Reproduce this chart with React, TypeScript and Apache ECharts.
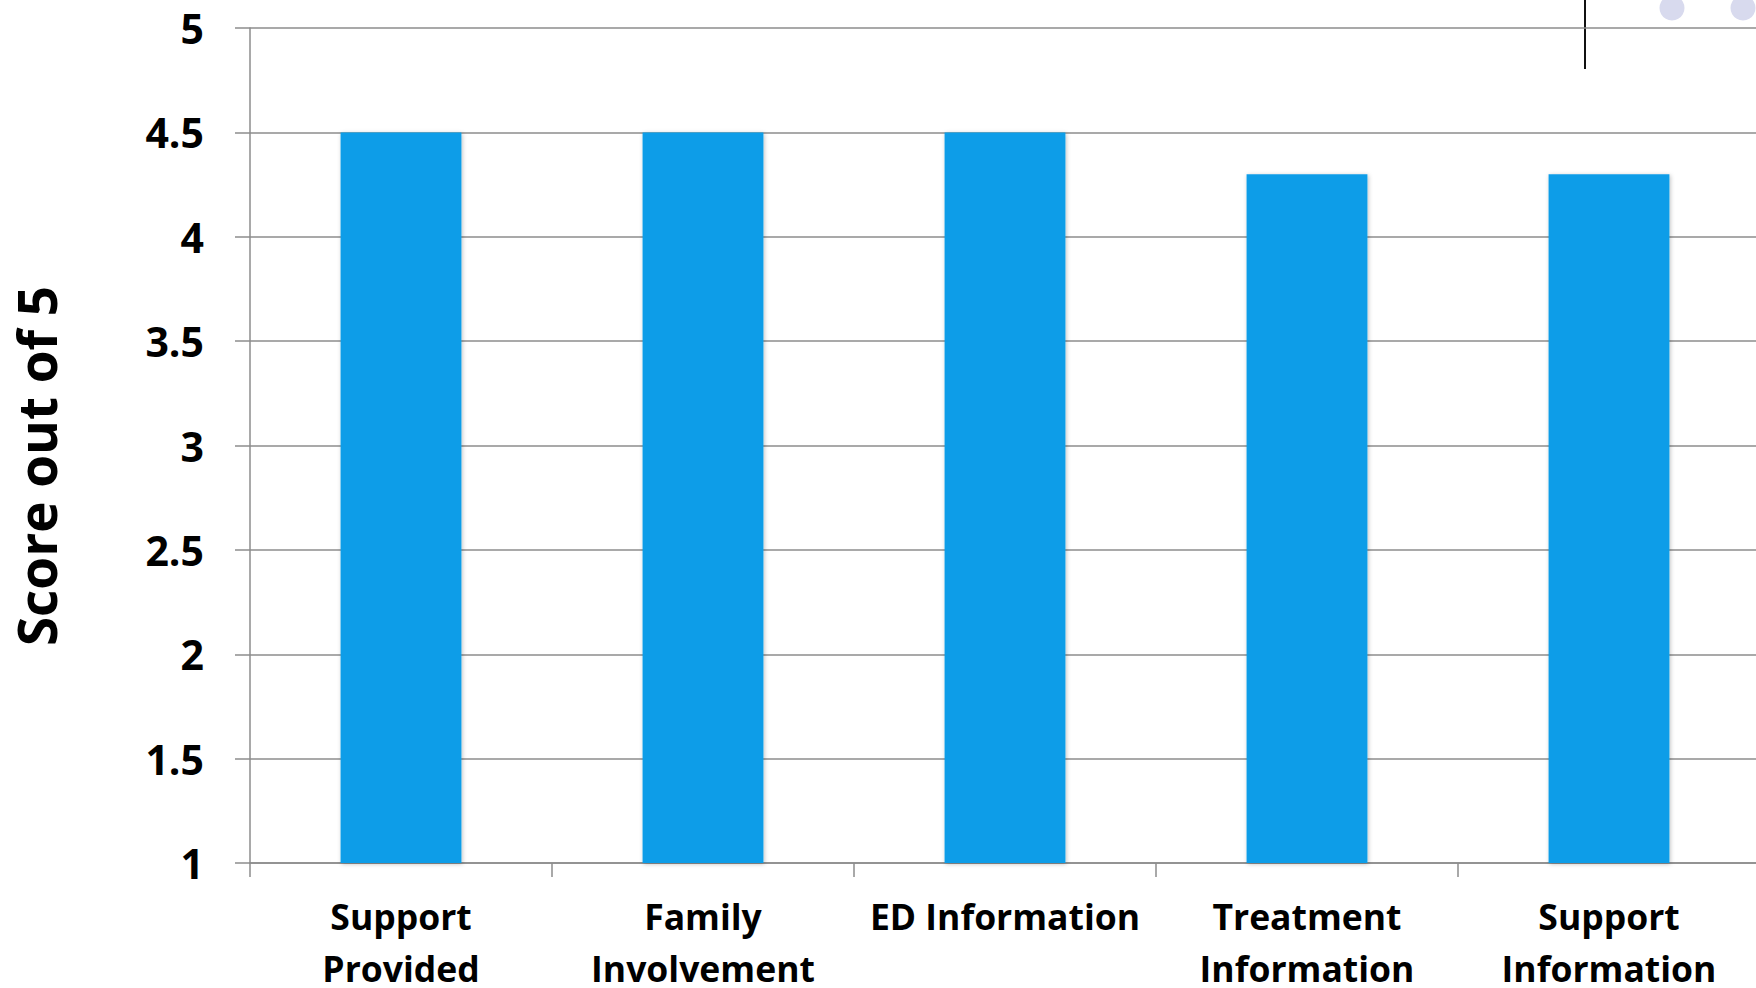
import React, { useEffect, useRef } from "react";
import * as echarts from "echarts";

// Category labels (two lines where the label wraps)
const categories = [
  "Support\nProvided",
  "Family\nInvolvement",
  "ED Information",
  "Treatment\nInformation",
  "Support\nInformation",
];

// Mean score for each category, out of 5
const scores = [4.5, 4.5, 4.5, 4.3, 4.3];

const yMin = 1;
const yMax = 5;
const yStep = 0.5;

const FONT = "Open Sans";

export default function App() {
  const ref = useRef<HTMLDivElement>(null);

  useEffect(() => {
    if (!ref.current) return;
    const chart = echarts.init(ref.current, null, { renderer: "svg" });
    chart.setOption({
      animation: false,
      backgroundColor: "#ffffff",
      grid: {
        left: 250,
        top: 28,
        width: 1510,
        height: 835,
        containLabel: false,
        outerBoundsMode: "none",
      },
      xAxis: {
        type: "category",
        data: categories,
        boundaryGap: true,
        axisLine: { show: true, lineStyle: { color: "#8c8c8c", width: 1.5 } },
        axisTick: {
          show: true,
          alignWithLabel: false,
          length: 14,
          lineStyle: { color: "#8c8c8c", width: 1.5 },
        },
        axisLabel: {
          color: "#000000",
          fontFamily: FONT,
          fontWeight: "bold",
          fontSize: 35.5,
          lineHeight: 52,
          margin: 27,
          interval: 0,
        },
      },
      yAxis: {
        type: "value",
        min: yMin,
        max: yMax,
        interval: yStep,
        axisLine: { show: true, lineStyle: { color: "#8c8c8c", width: 1.5 } },
        axisTick: {
          show: true,
          length: 15,
          lineStyle: { color: "#8c8c8c", width: 1.5 },
        },
        splitLine: { show: true, lineStyle: { color: "#8c8c8c", width: 1.5 } },
        axisLabel: {
          color: "#000000",
          fontFamily: FONT,
          fontWeight: "bold",
          fontSize: 41,
          margin: 46,
        },
      },
      series: [
        {
          type: "bar",
          data: scores,
          barWidth: "40%",
          itemStyle: {
            color: "#0a9de8",
            shadowBlur: 4,
            shadowColor: "rgba(0,0,0,0.25)",
            shadowOffsetX: 1,
            shadowOffsetY: 1,
          },
        },
      ],
      graphic: [
        {
          type: "text",
          x: 36,
          y: 466,
          rotation: Math.PI / 2,
          style: {
            text: "Score out of 5",
            fill: "#000000",
            font: `bold 53px ${FONT}`,
            textAlign: "center",
            textVerticalAlign: "middle",
          },
        },
        {
          type: "line",
          shape: { x1: 1585, y1: 0, x2: 1585, y2: 69 },
          style: { stroke: "#111111", lineWidth: 2 },
        },
        {
          type: "circle",
          shape: { cx: 1672, cy: 8, r: 12.5 },
          style: { fill: "#d8daee" },
        },
        {
          type: "circle",
          shape: { cx: 1743, cy: 8, r: 12.5 },
          style: { fill: "#d8daee" },
        },
      ],
    });
    return () => chart.dispose();
  }, []);

  return (
    <div
      ref={ref}
      style={{ width: 1756, height: 988, position: "absolute", left: 0, top: 0 }}
    />
  );
}
